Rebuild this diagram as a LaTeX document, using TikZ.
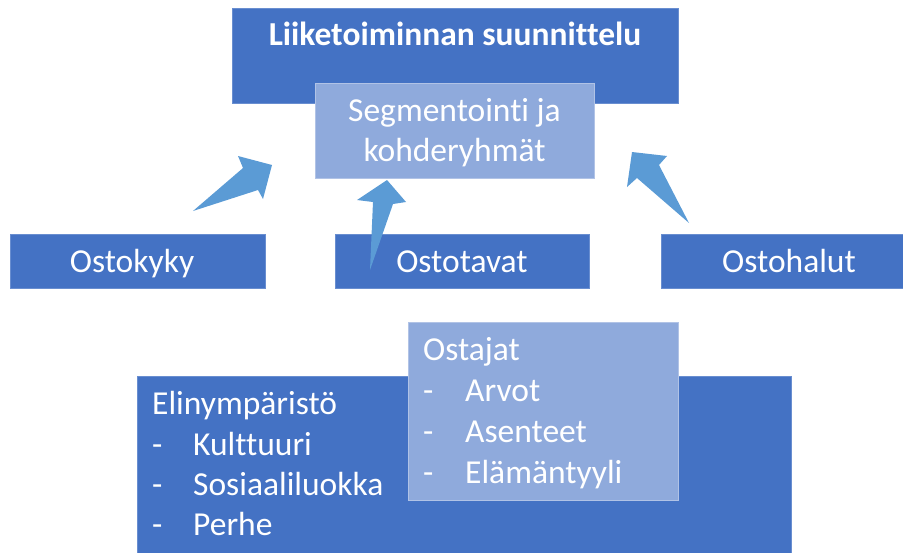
\documentclass[tikz,border=0pt]{standalone}
\usepackage{fontspec}
\setmainfont{Carlito}[Ligatures={NoCommon,NoContextual}]
\definecolor{dblue}{HTML}{4472C4}
\definecolor{lblue}{HTML}{8FAADC}
\definecolor{ablue}{HTML}{5B9BD5}
\begin{document}
\begin{tikzpicture}[x=1pt,y=-1pt,
  dbox/.style={fill=dblue, draw=dblue!80!white, line width=0.8pt, inner sep=0pt, outer sep=0pt},
  lbox/.style={fill=lblue, draw=lblue!70!white, line width=0.8pt, inner sep=0pt, outer sep=0pt},
  txt/.style={text=white, inner sep=0pt, font=\fontsize{33.5}{40}\selectfont},
  btxt/.style={text=white, inner sep=0pt, font=\fontsize{33.5}{40}\selectfont\bfseries},
  blockarrow/.style={fill=ablue, draw=none}]
\useasboundingbox (0,0) rectangle (903,552);
% boxes
\node[dbox, minimum width=446pt, minimum height=95pt] (plan) at (455,55.5) {};
\node[lbox, minimum width=279pt, minimum height=95pt] (seg) at (454.5,130.5) {};
\node[dbox, minimum width=255pt, minimum height=54pt] (kyky) at (137.5,261) {};
\node[dbox, minimum width=254pt, minimum height=54pt] (tavat) at (462,261) {};
\node[dbox, minimum width=244pt, minimum height=54pt] (halut) at (783,261) {};
\node[dbox, minimum width=654pt, minimum height=180pt] (elin) at (464,466) {};
\node[lbox, minimum width=270pt, minimum height=178pt] (ostajat) at (543,411) {};
% texts
\node[btxt, anchor=base] (t1) at (455,45) {Liiketoiminnan suunnittelu};
\node[txt, anchor=base] (t2) at (454.5,121) {Segmentointi ja};
\node[txt, anchor=base] (t3) at (454.5,161) {kohderyhmät};
\node[txt, anchor=base] (t4) at (132,272) {Ostokyky};
\node[txt, anchor=base] (t5) at (462,272) {Ostotavat};
\node[txt, anchor=base] (t6) at (789,272) {Ostohalut};
% Elinymparisto list
\node[txt, anchor=base west] (e0) at (152,414) {Elinympäristö};
\node[txt, anchor=base west] (e1d) at (152,455) {-};
\node[txt, anchor=base west] (e1) at (193,455) {Kulttuuri};
\node[txt, anchor=base west] (e2d) at (152,495) {-};
\node[txt, anchor=base west] (e2) at (193,495) {Sosiaaliluokka};
\node[txt, anchor=base west] (e3d) at (152,535) {-};
\node[txt, anchor=base west] (e3) at (193,535) {Perhe};
% Ostajat list
\node[txt, anchor=base west] (o0) at (423,360) {Ostajat};
\node[txt, anchor=base west] (o1d) at (423,401) {-};
\node[txt, anchor=base west] (o1) at (465,401) {Arvot};
\node[txt, anchor=base west] (o2d) at (423,442) {-};
\node[txt, anchor=base west] (o2) at (465,442) {Asenteet};
\node[txt, anchor=base west] (o3d) at (423,483) {-};
\node[txt, anchor=base west] (o3) at (465,483) {Elämäntyyli};
% block arrows
\fill[blockarrow] (193,211) -- (243,168) -- (238,156) -- (272,165) -- (263,199) -- (258,190) -- cycle;
\fill[blockarrow] (370,270) -- (373,202) -- (357,200) -- (387,180) -- (406,202) -- (393,204) -- cycle;
\fill[blockarrow] (689,223) -- (659,165) -- (667,156) -- (632,152) -- (627,187) -- (637,178) -- cycle;
\end{tikzpicture}
\end{document}
